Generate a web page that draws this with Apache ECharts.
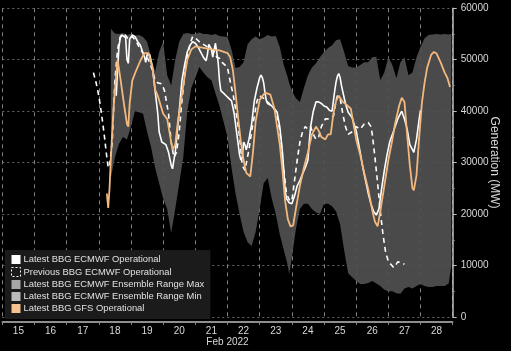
<!DOCTYPE html>
<html>
<head>
<meta charset="utf-8">
<script src="https://cdn.jsdelivr.net/npm/echarts@6/dist/echarts.min.js"></script>
<style>
  html, body { margin: 0; padding: 0; background: #000; }
  #chart { width: 511px; height: 351px; }
</style>
</head>
<body>
<div id="chart"></div>
<script>
// day labels on the x axis (Feb 2022)
var dayLabels = ['15','16','17','18','19','20','21','22','23','24','25','26','27','28'];

// Latest BBG ECMWF Operational  [time, MW]
var latestEcmwf = [
  ['02-18 13:00',43000],['02-18 14:00',48000],['02-18 15:00',52500],['02-18 16:00',54200],['02-18 17:00',54800],
  ['02-18 18:00',54500],['02-18 20:00',54300],['02-18 21:00',50000],['02-18 22:00',49300],['02-18 23:00',54000],
  ['02-19 01:00',54800],['02-19 03:00',54500],['02-19 05:00',53500],['02-19 07:00',52800],['02-19 09:00',51200],
  ['02-19 10:00',50600],['02-19 11:00',49500],['02-19 12:00',51000],['02-19 14:00',51000],['02-19 16:00',48500],
  ['02-19 18:00',44000],['02-19 20:00',39500],['02-19 21:00',36000],['02-19 23:00',34000],['02-20 02:00',33500],
  ['02-20 04:00',32000],['02-20 06:00',29500],['02-20 07:00',28800],['02-20 08:00',30500],['02-20 09:00',32000],
  ['02-20 10:00',34500],['02-20 11:00',37500],['02-20 12:00',40000],['02-20 13:00',43000],['02-20 14:00',46000],
  ['02-20 16:00',49000],['02-20 18:00',51500],['02-20 20:00',52800],['02-20 22:00',53500],['02-21 00:00',53200],
  ['02-21 02:00',52500],['02-21 04:00',51500],['02-21 06:00',50500],['02-21 08:00',49800],['02-21 09:00',51000],
  ['02-21 10:00',53000],['02-21 12:00',52000],['02-21 13:00',50500],['02-21 15:00',53200],['02-21 17:00',49600],
  ['02-21 18:00',46000],['02-21 19:00',44000],['02-21 21:00',43500],['02-21 23:00',43000],['02-22 01:00',42500],
  ['02-22 03:00',42000],['02-22 05:00',39500],['02-22 07:00',35500],['02-22 09:00',31500],['02-22 10:00',30500],
  ['02-22 11:00',31000],['02-22 12:00',34000],['02-22 13:00',33500],['02-22 14:00',32500],['02-22 16:00',34500],
  ['02-22 18:00',37500],['02-22 20:00',42000],['02-22 22:00',44500],['02-23 00:00',46500],['02-23 01:00',47000],
  ['02-23 02:00',46500],['02-23 03:00',45500],['02-23 04:00',43500],['02-23 05:00',42000],['02-23 07:00',41500],
  ['02-23 09:00',41000],['02-23 11:00',40500],['02-23 13:00',39800],['02-23 15:00',37000],['02-23 17:00',32000],
  ['02-23 18:00',28500],['02-23 19:00',24500],['02-23 20:00',23000],['02-23 22:00',22200],['02-24 00:00',22000],
  ['02-24 02:00',23500],['02-24 04:00',25500],['02-24 06:00',26500],['02-24 08:00',27800],['02-24 10:00',29000],
  ['02-24 12:00',30500],['02-24 13:00',34000],['02-24 14:00',37000],['02-24 16:00',40000],['02-24 18:00',41800],
  ['02-24 20:00',41800],['02-24 22:00',41500],['02-25 00:00',41000],['02-25 02:00',40800],['02-25 04:00',40200],
  ['02-25 06:00',40000],['02-25 08:00',44000],['02-25 09:00',45700],['02-25 10:00',46800],['02-25 11:00',47300],
  ['02-25 12:00',46500],['02-25 13:00',45000],['02-25 14:00',43800],['02-25 16:00',41500],['02-25 18:00',39800],
  ['02-25 21:00',38700],['02-26 00:00',36200],['02-26 03:00',32000],['02-26 05:00',29000],['02-26 07:00',26500],
  ['02-26 09:00',24000],['02-26 11:00',22000],['02-26 13:00',20500],['02-26 15:00',19800],['02-26 17:00',21000],
  ['02-26 19:00',25000],['02-26 21:00',28500],['02-26 23:00',31500],['02-27 01:00',34000],['02-27 04:00',36200],
  ['02-27 07:00',38500],['02-27 09:00',39500],['02-27 10:00',40000],['02-27 12:00',38500],['02-27 14:00',36500],
  ['02-27 16:00',33500],['02-27 18:00',32500],['02-27 19:00',32000],['02-27 21:00',34500],['02-27 23:00',38500],
  ['02-28 00:00',40200]
];

// Previous BBG ECMWF Operational
var previousEcmwf = [
  ['02-17 20:00',47500],['02-17 22:00',45500],['02-18 00:00',43000],['02-18 02:00',39500],['02-18 04:00',35500],
  ['02-18 06:00',31000],['02-18 07:00',29000],['02-18 08:00',29500],['02-18 10:00',34000],['02-18 11:00',40000],
  ['02-18 12:00',46000],['02-18 14:00',52000],['02-18 16:00',54500],['02-18 19:00',55000],['02-18 22:00',54000],
  ['02-19 01:00',54500],['02-19 04:00',53500],['02-19 07:00',52000],['02-19 10:00',51000],['02-19 13:00',50000],
  ['02-19 16:00',48000],['02-19 18:00',46000],['02-19 20:00',45500],['02-19 23:00',45300],['02-20 01:00',44000],
  ['02-20 03:00',41000],['02-20 04:00',39500],['02-20 06:00',34000],['02-20 08:00',31000],['02-20 10:00',32000],
  ['02-20 12:00',36000],['02-20 14:00',42000],['02-20 16:00',47000],['02-20 18:00',50500],['02-20 20:00',53000],
  ['02-20 22:00',54500],['02-21 00:00',54200],['02-21 03:00',53500],['02-21 06:00',53000],['02-21 09:00',52500],
  ['02-21 12:00',52000],['02-21 14:00',51500],['02-21 16:00',50500],['02-21 18:00',50300],['02-21 20:00',49500],
  ['02-21 22:00',49000],['02-22 00:00',48500],['02-22 02:00',45800],['02-22 04:00',43500],['02-22 06:00',40500],
  ['02-22 08:00',37000],['02-22 09:00',35000],['02-22 11:00',29500],['02-22 13:00',28500],['02-22 14:00',28800],
  ['02-22 16:00',32500],['02-22 18:00',36000],['02-22 20:00',39000],['02-22 22:00',42000],['02-23 00:00',43000],
  ['02-23 03:00',42500],['02-23 06:00',41500],['02-23 09:00',41000],['02-23 12:00',40000],['02-23 14:00',38000],
  ['02-23 16:00',34000],['02-23 18:00',28500],['02-23 20:00',24000],['02-23 22:00',22800],['02-24 00:00',22500],
  ['02-24 02:00',26500],['02-24 04:00',30500],['02-24 06:00',34000],['02-24 08:00',36000],['02-24 10:00',37000],
  ['02-24 12:00',36500],['02-24 14:00',37000],['02-24 16:00',35500],['02-24 18:00',34500],['02-24 20:00',35000],
  ['02-24 22:00',37000],['02-25 01:00',38500],['02-25 04:00',38500],['02-25 07:00',39000],['02-25 09:00',42000],
  ['02-25 10:00',43000],['02-25 12:00',42500],['02-25 14:00',39500],['02-25 16:00',37000],['02-25 18:00',35500],
  ['02-25 21:00',36000],['02-26 00:00',37000],['02-26 03:00',36500],['02-26 06:00',37500],['02-26 09:00',37800],
  ['02-26 11:00',37000],['02-26 12:00',35500],['02-26 14:00',31000],['02-26 16:00',26000],['02-26 18:00',20500],
  ['02-26 20:00',16000],['02-26 22:00',12500],['02-27 00:00',10800],['02-27 02:00',10200],['02-27 04:00',9600],
  ['02-27 06:00',10300],['02-27 07:00',10700],['02-27 09:00',10600],['02-27 11:00',10400],['02-27 12:00',10200]
];

// Latest BBG GFS Operational
var latestGfs = [
  ['02-18 06:00',24000],['02-18 07:00',21200],['02-18 08:00',25000],['02-18 09:00',31000],['02-18 11:00',40500],
  ['02-18 12:00',44000],['02-18 14:00',50000],['02-18 16:00',46500],['02-18 19:00',41000],['02-18 21:00',37500],
  ['02-18 22:00',37000],['02-18 23:00',41500],['02-19 01:00',46000],['02-19 04:00',48000],['02-19 07:00',49800],
  ['02-19 10:00',51300],['02-19 13:00',51300],['02-19 16:00',48500],['02-19 18:00',44200],['02-19 20:00',43000],
  ['02-20 00:00',39500],['02-20 03:00',38500],['02-20 05:00',35500],['02-20 07:00',32500],['02-20 09:00',33500],
  ['02-20 11:00',38000],['02-20 13:00',41500],['02-20 15:00',45000],['02-20 18:00',50000],['02-20 21:00',52000],
  ['02-21 00:00',52600],['02-21 06:00',52300],['02-21 12:00',52000],['02-21 18:00',51800],['02-22 00:00',51300],
  ['02-22 02:00',50500],['02-22 04:00',48000],['02-22 06:00',43500],['02-22 08:00',38500],['02-22 10:00',34000],
  ['02-22 12:00',30500],['02-22 14:00',28000],['02-22 17:00',27300],['02-22 19:00',32000],['02-22 21:00',38000],
  ['02-23 00:00',42200],['02-23 04:00',43600],['02-23 08:00',43200],['02-23 11:00',40500],['02-23 13:00',37000],
  ['02-23 15:00',33500],['02-23 17:00',28500],['02-23 19:00',22500],['02-23 21:00',19000],['02-23 23:00',17600],
  ['02-24 01:00',17800],['02-24 03:00',21000],['02-24 06:00',25500],['02-24 09:00',29000],['02-24 12:00',32000],
  ['02-24 15:00',35500],['02-24 18:00',37000],['02-24 20:00',36200],['02-24 22:00',35000],['02-25 01:00',34500],
  ['02-25 03:00',35500],['02-25 05:00',35500],['02-25 07:00',39500],['02-25 09:00',42000],['02-25 11:00',43000],
  ['02-25 14:00',41800],['02-25 17:00',41200],['02-25 20:00',40500],['02-25 22:00',37500],['02-26 00:00',34500],
  ['02-26 03:00',31500],['02-26 06:00',28000],['02-26 09:00',24800],['02-26 12:00',20700],['02-26 14:00',18500],
  ['02-26 16:00',17600],['02-26 18:00',20500],['02-26 21:00',25500],['02-27 00:00',30500],['02-27 03:00',34500],
  ['02-27 05:00',37500],['02-27 08:00',41000],['02-27 10:00',42600],['02-27 12:00',41800],['02-27 14:00',35500],
  ['02-27 16:00',29500],['02-27 18:00',25000],['02-27 19:00',24600],['02-27 21:00',27500],['02-27 23:00',35000],
  ['02-28 01:00',41500],['02-28 03:00',45500],['02-28 05:00',48500],['02-28 08:00',51000],['02-28 10:00',51500],
  ['02-28 12:00',51200],['02-28 15:00',49500],['02-28 18:00',47500],['02-28 20:00',46500],['02-28 22:00',44700]
];

// ECMWF ensemble range, sampled at common times
var ensTimes = [
  '02-18 09:00','02-18 12:00','02-18 15:00','02-18 18:00','02-18 21:00','02-19 00:00','02-19 03:00','02-19 06:00',
  '02-19 09:00','02-19 12:00','02-19 15:00','02-19 18:00','02-19 21:00','02-20 00:00','02-20 03:00','02-20 06:00',
  '02-20 09:00','02-20 12:00','02-20 15:00','02-20 18:00','02-20 21:00','02-21 00:00','02-21 03:00','02-21 06:00',
  '02-21 09:00','02-21 12:00','02-21 15:00','02-21 18:00','02-21 21:00','02-22 00:00','02-22 03:00','02-22 06:00',
  '02-22 09:00','02-22 12:00','02-22 15:00','02-22 18:00','02-22 21:00','02-23 00:00','02-23 03:00','02-23 06:00',
  '02-23 09:00','02-23 12:00','02-23 15:00','02-23 18:00','02-23 21:00','02-23 22:00','02-24 00:00','02-24 03:00',
  '02-24 06:00','02-24 09:00','02-24 12:00','02-24 15:00','02-24 18:00','02-24 21:00','02-25 00:00','02-25 03:00',
  '02-25 06:00','02-25 09:00','02-25 12:00','02-25 15:00','02-25 18:00','02-25 21:00','02-26 00:00','02-26 03:00',
  '02-26 06:00','02-26 09:00','02-26 12:00','02-26 15:00','02-26 18:00','02-26 21:00','02-27 00:00','02-27 03:00',
  '02-27 06:00','02-27 09:00','02-27 12:00','02-27 15:00','02-27 18:00','02-27 21:00','02-28 00:00','02-28 03:00',
  '02-28 06:00','02-28 09:00','02-28 12:00','02-28 15:00','02-28 18:00','02-28 21:00','02-28 23:00'
];
var ensMax = [
  56000,55100,55000,55200,54800,55000,54700,54800,
  54400,53500,50500,47700,51500,53500,47000,45000,
  50000,53500,55000,55200,55000,55000,55300,55000,
  55000,54800,55000,54600,54500,54400,52000,48400,
  48600,49500,53000,54000,54500,54000,54300,54800,
  54500,54600,52500,49000,46500,45500,44000,42500,
  41800,44500,47000,48500,49300,50500,51500,52300,
  52800,53800,54000,51500,48800,48500,48500,49000,
  49500,49500,50500,50600,46000,47500,50500,49000,
  46400,49500,50500,47000,47500,50500,52500,54200,
  54800,54900,55000,54900,55000,54900,55000
];
var ensMin = [
  27000,31000,33600,35000,34500,37000,40000,39800,
  39500,36000,33000,29000,26000,23000,21000,16300,
  21000,26000,31000,40000,44500,46500,48600,47500,
  46600,46000,43500,41000,38000,35000,29000,24000,
  20000,16500,14500,13800,16500,21000,26000,27000,
  23000,20000,16000,13000,10000,8300,11500,17000,
  21000,22000,22000,21000,20300,20000,22000,22000,
  21500,20500,18000,13000,8500,7700,7000,6400,
  6400,6600,7000,6500,6000,5300,5000,5000,
  4600,4500,5500,5800,5500,6000,6400,6000,
  5800,5800,6000,6000,6000,6500,10000
];

function t(s) { return '2022-' + s.replace(' ', 'T') + ':00'; }
function pairs(arr) { return arr.map(function (d) { return [t(d[0]), d[1]]; }); }

var bandBase = ensTimes.map(function (s, i) { return [t(s), ensMin[i]]; });
var bandSpan = ensTimes.map(function (s, i) { return [t(s), ensMax[i] - ensMin[i]]; });

var myChart = echarts.init(document.getElementById('chart'));
var font = 'Liberation Sans';
var names = [
  'Latest BBG ECMWF Operational',
  'Previous BBG ECMWF Operational',
  'Latest BBG ECMWF Ensemble Range Max',
  'Latest BBG ECMWF Ensemble Range Min',
  'Latest BBG GFS Operational'
];

var option = {
  backgroundColor: '#000',
  animation: false,
  textStyle: { fontFamily: font },
  grid: { left: 2.3, right: 58.3, top: 8.3, bottom: 34.1, outerBoundsMode: 'none', containLabel: false },
  legend: {
    orient: 'vertical',
    left: 5, top: 250,
    backgroundColor: '#1b1b1b',
    padding: [5, 6, 6, 6],
    itemWidth: 9, itemHeight: 9, itemGap: 3,
    icon: 'rect',
    textStyle: { color: '#e0e0e0', fontSize: 9.4, fontFamily: font, padding: [0, 0, 0, -2] },
    data: [
      { name: names[0], itemStyle: { color: '#ffffff', borderWidth: 0 } },
      { name: names[1], itemStyle: { color: 'rgba(0,0,0,0)', borderColor: '#ffffff', borderWidth: 1, borderType: [2, 2] } },
      { name: names[2], itemStyle: { color: '#a6a6a6', borderWidth: 0 } },
      { name: names[3], itemStyle: { color: '#bababa', borderWidth: 0 } },
      { name: names[4], itemStyle: { color: '#f6c28f', borderWidth: 0 } }
    ]
  },
  xAxis: [
    {
      type: 'time',
      min: '2022-02-15T00:00:00', max: '2022-03-01T00:00:00',
      show: false
    },
    {
      type: 'category',
      data: dayLabels,
      boundaryGap: true,
      position: 'bottom',
      offset: 5,
      axisLine: { lineStyle: { color: '#bdbdbd', width: 1.5 } },
      axisTick: { show: true, length: 3, lineStyle: { color: '#888' } },
      axisLabel: { color: '#d8d8d8', fontSize: 10, margin: 4 },
      splitLine: { show: true, lineStyle: { color: '#808080', type: [4, 4], width: 1 } },
      name: 'Feb 2022',
      nameLocation: 'middle',
      nameMoveOverlap: false,
      nameGap: 15,
      nameTextStyle: { color: '#d8d8d8', fontSize: 10 }
    }
  ],
  yAxis: {
    type: 'value',
    position: 'right',
    min: 0, max: 60000, interval: 10000,
    axisLine: { show: true, lineStyle: { color: '#bdbdbd', width: 1.5 } },
    axisTick: { show: true, length: 4, lineStyle: { color: '#bdbdbd' } },
    minorTick: { show: true, splitNumber: 2, length: 2, lineStyle: { color: '#999' } },
    axisLabel: { color: '#d8d8d8', fontSize: 10, margin: 8, formatter: function (v) { return String(v); } },
    splitLine: { show: true, lineStyle: { color: '#666', type: [2, 3], width: 1 } },
    name: 'Generation (MW)',
    nameLocation: 'middle',
    nameRotate: -90,
    nameMoveOverlap: false,
    nameGap: 36,
    nameTextStyle: { color: '#d8d8d8', fontSize: 12 }
  },
  series: [
    {
      name: names[3], type: 'line', xAxisIndex: 0, stack: 'ens',
      data: bandBase, symbol: 'none',
      lineStyle: { opacity: 0 }, areaStyle: { opacity: 0 },
      itemStyle: { color: '#bababa' }, z: 1
    },
    {
      name: names[2], type: 'line', xAxisIndex: 0, stack: 'ens',
      data: bandSpan, symbol: 'none',
      lineStyle: { opacity: 0 },
      areaStyle: { color: 'rgba(80,80,80,0.92)', opacity: 1 },
      itemStyle: { color: '#a6a6a6' }, z: 1
    },
    {
      name: names[1], type: 'line', xAxisIndex: 0,
      data: pairs(previousEcmwf), symbol: 'none',
      lineStyle: { color: '#ffffff', width: 1.6, type: [5, 4] },
      itemStyle: { color: '#ffffff' }, z: 3
    },
    {
      name: names[0], type: 'line', xAxisIndex: 0,
      data: pairs(latestEcmwf), symbol: 'none',
      lineStyle: { color: '#ffffff', width: 1.6 },
      itemStyle: { color: '#ffffff' }, z: 3
    },
    {
      name: names[4], type: 'line', xAxisIndex: 0,
      data: pairs(latestGfs), symbol: 'none',
      lineStyle: { color: '#f2b87e', width: 1.8 },
      itemStyle: { color: '#f6c28f' }, z: 4
    }
  ]
};
myChart.setOption(option);
window.addEventListener('resize', function () { myChart.resize(); });
</script>
</body>
</html>
